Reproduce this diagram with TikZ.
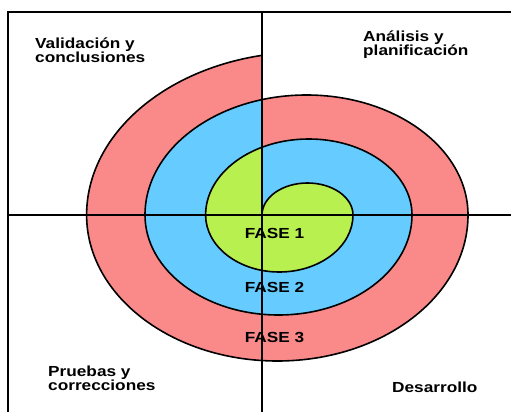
\documentclass[tikz,border=0pt]{standalone}
\usepackage{fontspec}
\newfontfamily\lab{Liberation Sans}[FakeStretch=1.18]
\definecolor{ringred}{RGB}{250,138,138}
\definecolor{ringblue}{RGB}{102,204,255}
\definecolor{ringgreen}{RGB}{184,240,80}
\tikzset{
  spiral/.style={line width=1.6pt, line join=round},
  axis/.style={line width=1.8pt},
  frame/.style={line width=2.4pt},
  lbl/.style={font={\lab\bfseries\fontsize{14.6}{13.5}\selectfont}, inner sep=0pt, align=left, anchor=base west},
  fase/.style={font={\lab\bfseries\fontsize{14.6}{14}\selectfont}, inner sep=0pt, anchor=base}
}
\begin{document}
\begin{tikzpicture}[x=1pt,y=1pt]
\useasboundingbox (0,0) rectangle (511,412);
% fills
\fill[ringred] (86.6,197) arc[start angle=180,end angle=101.6,x radius=219.6,y radius=163]
  -- ([shift={(306.5,197)}]106:161.5 and 120)
  arc[start angle=106,end angle=0,x radius=161.5,y radius=120]
  arc[start angle=0,end angle=-180,x radius=190.7,y radius=146] -- cycle;
\fill[ringblue] ([shift={(306.5,197)}]106:161.5 and 120)
  arc[start angle=106,end angle=180,x radius=161.5,y radius=120]
  arc[start angle=-180,end angle=0,x radius=133.5,y radius=100]
  arc[start angle=0,end angle=117,x radius=103.2,y radius=76] -- cycle;
\fill[ringgreen] ([shift={(308.8,197)}]117:103.2 and 76)
  arc[start angle=117,end angle=180,x radius=103.2,y radius=76]
  arc[start angle=-180,end angle=0,x radius=73.7,y radius=57]
  arc[start angle=0,end angle=180,x radius=45.5,y radius=32] -- cycle;
% spiral line
\draw[spiral] (262,197)
  arc[start angle=180,end angle=0,x radius=45.5,y radius=32]
  arc[start angle=0,end angle=-180,x radius=73.7,y radius=57]
  arc[start angle=180,end angle=0,x radius=103.2,y radius=76]
  arc[start angle=0,end angle=-180,x radius=133.5,y radius=100]
  arc[start angle=180,end angle=0,x radius=161.5,y radius=120]
  arc[start angle=0,end angle=-180,x radius=190.7,y radius=146]
  arc[start angle=180,end angle=101.6,x radius=219.6,y radius=163];
% frame and axes
\coordinate (tl) at (8,400);
\coordinate (tr) at (511,400);
\coordinate (bl) at (8,0);
\coordinate (vt) at (262,400);
\coordinate (vb) at (262,0);
\coordinate (hl) at (8,197);
\coordinate (hr) at (511,197);
\draw[frame] (bl) -- (tl) -- (tr);
\draw[axis] (vt) -- (vb);
\draw[axis] (hl) -- (hr);
% labels (base = last line)
\node[lbl] (val) at (35,349) {Validación y\\conclusiones};
\node[lbl] (ana) at (363,356) {Análisis y\\planificación};
\node[lbl] (pru) at (48,21) {Pruebas y\\correcciones};
\node[lbl] (des) at (392,19.3) {Desarrollo};
\node[fase] (f1) at (274.5,173) {FASE 1};
\node[fase] (f2) at (274.5,119) {FASE 2};
\node[fase] (f3) at (274.5,69) {FASE 3};
\end{tikzpicture}
\end{document}
